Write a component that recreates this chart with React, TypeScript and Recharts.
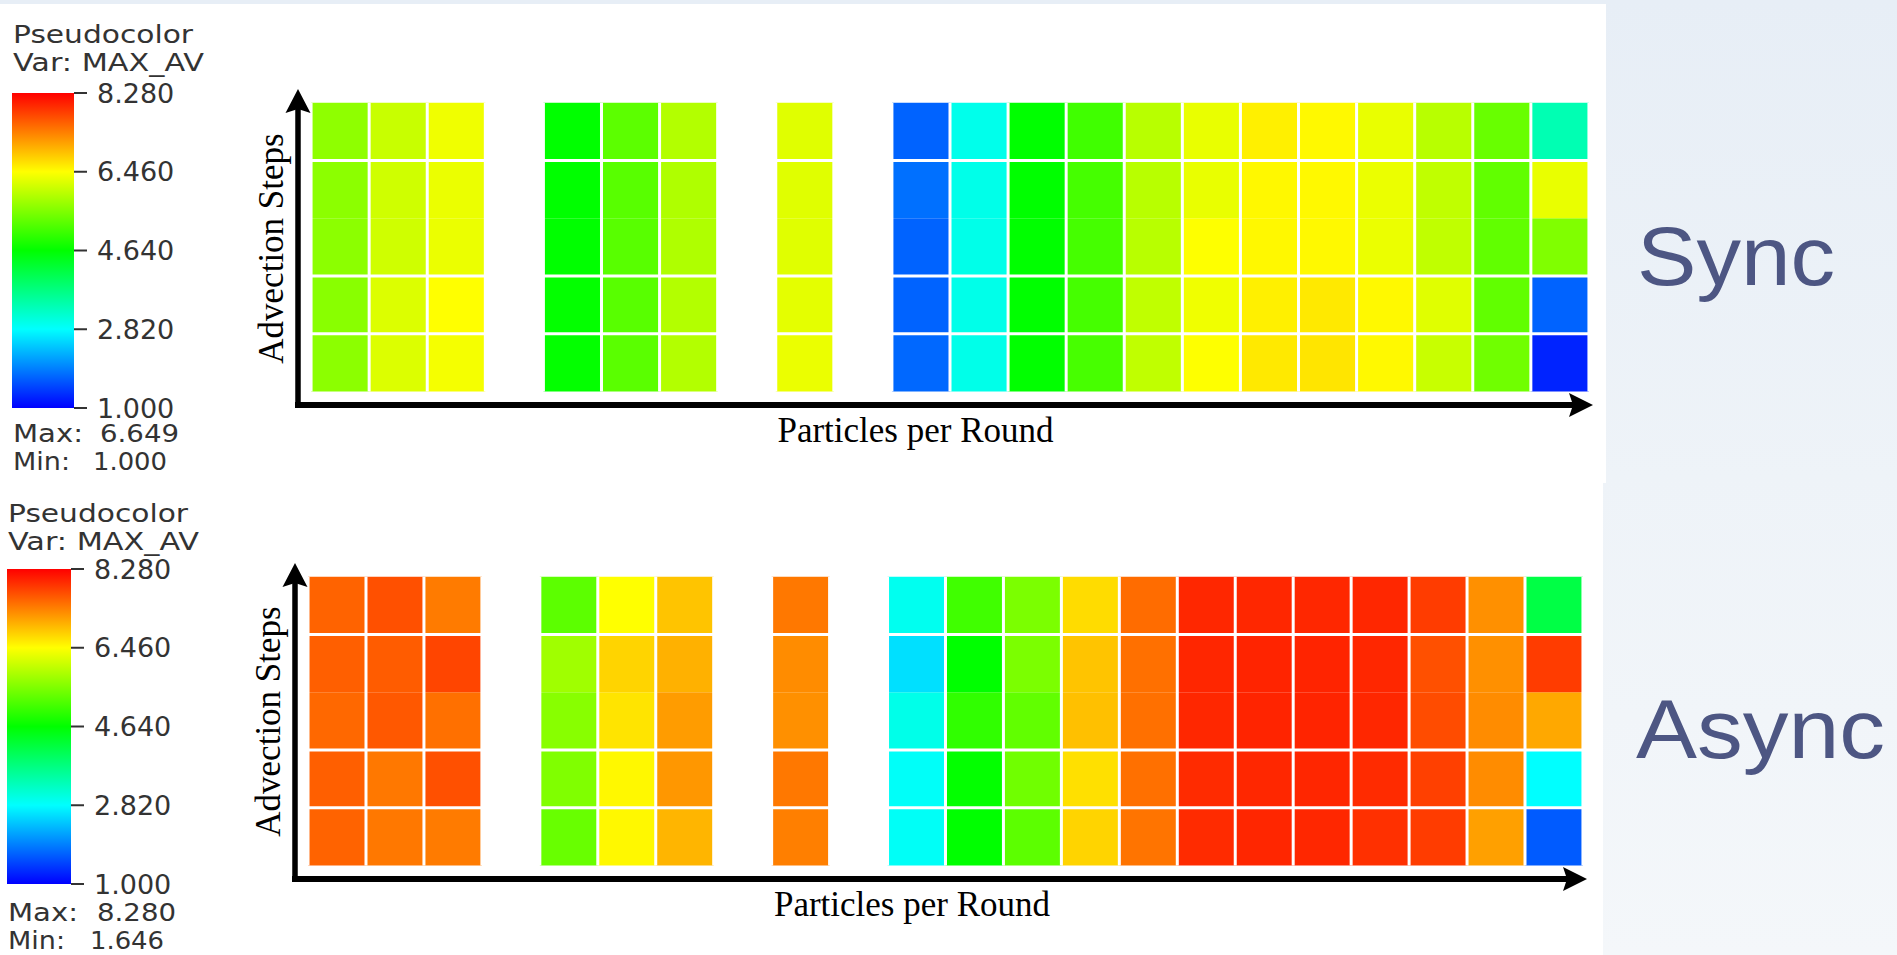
import React from "react";
import {
  BarChart,
  Bar,
  ComposedChart,
  XAxis,
  YAxis,
  ReferenceArea,
  ReferenceLine,
  ReferenceDot,
} from "recharts";

// x slots of the measured "particles per round" columns (22 slots, 3 empty)
const COLUMN_SLOTS = [0, 1, 2, 4, 5, 6, 8, 10, 11, 12, 13, 14, 15, 16, 17, 18, 19, 20, 21];
const SLOT_COUNT = 22;
// advection step rows, bottom -> top
const STEP_ROWS = [0, 1, 2, 3, 4];
// white separators between rows (none between rows 2 and 3)
const ROW_LINES = [1, 2, 4];

// MAX_AV per cell, one array per row (bottom -> top)
const SYNC_VALUES = [
  [5.64, 6.21, 6.39, 4.66, 5.28, 5.92, 6.32, 1.74, 2.98, 4.65, 5.15, 6.01, 6.45, 6.62, 6.649, 6.5, 6.07, 5.44, 1.25],
  [5.62, 6.21, 6.46, 4.66, 5.27, 5.92, 6.27, 1.71, 2.98, 4.64, 5.13, 6.01, 6.35, 6.57, 6.62, 6.5, 6.24, 5.33, 1.71],
  [5.64, 6.12, 6.32, 4.64, 5.27, 5.89, 6.24, 1.71, 2.98, 4.64, 5.13, 5.95, 6.45, 6.51, 6.5, 6.32, 6.01, 5.33, 5.55],
  [5.64, 6.12, 6.32, 4.64, 5.27, 5.89, 6.24, 1.8, 2.98, 4.64, 5.13, 5.95, 6.3, 6.51, 6.5, 6.32, 6.01, 5.33, 6.3],
  [5.66, 6.07, 6.35, 4.64, 5.3, 5.92, 6.24, 1.71, 2.96, 4.64, 5.1, 5.95, 6.3, 6.57, 6.5, 6.3, 5.95, 5.38, 3.36],
];

const ASYNC_VALUES = [
  [7.57, 7.42, 7.4, 5.38, 6.51, 6.99, 7.37, 2.88, 4.64, 5.3, 6.77, 7.45, 7.97, 8.01, 8.0, 7.94, 7.85, 7.14, 1.646],
  [7.6, 7.42, 7.71, 5.55, 6.51, 7.2, 7.42, 2.86, 4.66, 5.44, 6.68, 7.48, 7.97, 8.0, 8.01, 7.97, 7.82, 7.28, 2.82],
  [7.54, 7.65, 7.48, 5.61, 6.65, 7.17, 7.25, 2.98, 4.98, 5.33, 6.91, 7.48, 8.0, 8.02, 8.02, 8.0, 7.74, 7.28, 7.08],
  [7.6, 7.62, 7.79, 5.78, 6.77, 7.02, 7.28, 2.6, 4.64, 5.52, 6.88, 7.48, 8.01, 8.02, 8.02, 8.0, 7.71, 7.25, 7.85],
  [7.57, 7.71, 7.4, 5.3, 6.46, 6.88, 7.42, 2.93, 5.1, 5.52, 6.71, 7.51, 8.0, 8.0, 8.0, 8.0, 7.85, 7.25, 4.15],
];

const LEGEND_TICKS = [1.0, 2.82, 4.64, 6.46, 8.28];
const COLOR_STOPS = ["#0000ff", "#00ffff", "#00ff00", "#ffff00", "#ff0000"];

const X_DOMAIN = [-0.225, 22.07];
const Y_DOMAIN = [-0.235, 5.24];

function hexToRgb(h: string) {
  return [1, 3, 5].map((i) => parseInt(h.slice(i, i + 2), 16));
}

function colorFor(v: number) {
  const lo = LEGEND_TICKS[0];
  const hi = LEGEND_TICKS[LEGEND_TICKS.length - 1];
  const n = COLOR_STOPS.length - 1;
  const t = Math.min(1, Math.max(0, (v - lo) / (hi - lo))) * n;
  const i = Math.min(Math.floor(t), n - 1);
  const f = t - i;
  const a = hexToRgb(COLOR_STOPS[i]);
  const b = hexToRgb(COLOR_STOPS[i + 1]);
  const c = a.map((x, k) => Math.round(x + (b[k] - x) * f));
  return `rgb(${c[0]},${c[1]},${c[2]})`;
}

const upArrow = (p: any) => (
  <polygon
    points={`${p.cx},${p.cy} ${p.cx - 12.5},${p.cy + 24} ${p.cx},${p.cy + 20} ${p.cx + 12.5},${p.cy + 24}`}
    fill="#000"
  />
);
const rightArrow = (p: any) => (
  <polygon
    points={`${p.cx},${p.cy} ${p.cx - 24},${p.cy - 12} ${p.cx - 20},${p.cy} ${p.cx - 24},${p.cy + 12}`}
    fill="#000"
  />
);

function Heatmap({ values, width, height, margin }: any) {
  return (
    <ComposedChart width={width} height={height} margin={margin} data={[]}>
      <XAxis type="number" dataKey="x" domain={X_DOMAIN} allowDataOverflow hide />
      <YAxis type="number" dataKey="y" domain={Y_DOMAIN} allowDataOverflow hide />
      {values.map((row: number[], r: number) =>
        row.map((v, i) => (
          <ReferenceArea
            key={`c${r}-${i}`}
            x1={COLUMN_SLOTS[i]}
            x2={COLUMN_SLOTS[i] + 1}
            y1={STEP_ROWS[r]}
            y2={STEP_ROWS[r] + 1}
            fill={colorFor(v)}
            fillOpacity={1}
            stroke="none"
            ifOverflow="visible"
          />
        ))
      )}
      {Array.from({ length: SLOT_COUNT + 1 }, (_, k) => (
        <ReferenceLine
          key={`v${k}`}
          segment={[{ x: k, y: 0 }, { x: k, y: STEP_ROWS.length }]}
          stroke="#ffffff"
          strokeWidth={3}
          ifOverflow="visible"
        />
      ))}
      {ROW_LINES.map((y) => (
        <ReferenceLine
          key={`h${y}`}
          segment={[{ x: 0, y }, { x: SLOT_COUNT, y }]}
          stroke="#ffffff"
          strokeWidth={3}
          ifOverflow="visible"
        />
      ))}
      <ReferenceLine
        segment={[{ x: X_DOMAIN[0], y: Y_DOMAIN[0] }, { x: X_DOMAIN[0], y: 4.9 }]}
        stroke="#000"
        strokeWidth={5.5}
        strokeLinecap="square"
        ifOverflow="visible"
      />
      <ReferenceLine
        segment={[{ x: X_DOMAIN[0], y: Y_DOMAIN[0] }, { x: 21.8, y: Y_DOMAIN[0] }]}
        stroke="#000"
        strokeWidth={6}
        strokeLinecap="square"
        ifOverflow="visible"
      />
      <ReferenceDot x={X_DOMAIN[0]} y={Y_DOMAIN[1]} r={1} shape={upArrow} ifOverflow="visible" />
      <ReferenceDot x={X_DOMAIN[1]} y={Y_DOMAIN[0]} r={1} shape={rightArrow} ifOverflow="visible" />
    </ComposedChart>
  );
}

function ColorBar({ id, height, margin, axisWidth }: any) {
  const data = [{ name: "MAX_AV", range: [LEGEND_TICKS[0], LEGEND_TICKS[LEGEND_TICKS.length - 1]] }];
  const shape = (p: any) => (
    <g>
      <defs>
        <linearGradient id={id} x1="0" y1="0" x2="0" y2="1">
          {COLOR_STOPS.slice()
            .reverse()
            .map((c, i) => (
              <stop key={c} offset={`${(i / (COLOR_STOPS.length - 1)) * 100}%`} stopColor={c} />
            ))}
        </linearGradient>
      </defs>
      <rect x={p.x} y={p.y} width={p.width} height={p.height} fill={`url(#${id})`} />
    </g>
  );
  return (
    <BarChart width={200} height={height} data={data} margin={margin} barCategoryGap={0}>
      <XAxis dataKey="name" hide />
      <YAxis
        orientation="right"
        type="number"
        domain={[LEGEND_TICKS[0], LEGEND_TICKS[LEGEND_TICKS.length - 1]]}
        ticks={LEGEND_TICKS}
        interval={0}
        width={axisWidth}
        axisLine={false}
        tickSize={13}
        tickMargin={10}
        tickLine={{ stroke: "#333", strokeWidth: 2 }}
        tick={{ fill: "#333", fontSize: 27, fontFamily: "DejaVu Sans" }}
        tickFormatter={(v: number) => v.toFixed(3)}
      />
      <Bar dataKey="range" shape={shape} isAnimationActive={false} />
    </BarChart>
  );
}

const legendFont = { fontFamily: "DejaVu Sans", fontSize: 24, fill: "#333" };
const serif = { fontFamily: "Liberation Serif", fontSize: 35, fill: "#000" };
const big = { fontFamily: "Liberation Sans", fontSize: 84, fill: "#4d5683" };

function LegendText({ x, y0, maxLabel, minLabel, maxX, minX }: any) {
  return (
    <g style={legendFont as any}>
      <text x={x} y={y0} textLength={180} lengthAdjust="spacingAndGlyphs">Pseudocolor</text>
      <text x={x} y={y0 + 28} textLength={191} lengthAdjust="spacingAndGlyphs">Var: MAX_AV</text>
      <text x={x} y={y0 + 399} textLength={70} lengthAdjust="spacingAndGlyphs">Max:</text>
      <text x={maxX} y={y0 + 399} textLength={79} lengthAdjust="spacingAndGlyphs">{maxLabel}</text>
      <text x={x} y={y0 + 427} textLength={57} lengthAdjust="spacingAndGlyphs">Min:</text>
      <text x={minX} y={y0 + 427} textLength={74} lengthAdjust="spacingAndGlyphs">{minLabel}</text>
    </g>
  );
}

export default function App() {
  return (
    <div
      style={{
        position: "absolute",
        left: 0,
        top: 0,
        width: 1897,
        height: 955,
        overflow: "hidden",
        background: "linear-gradient(180deg, #e7eef6 0%, #eef3f8 50%, #f4f7fa 100%)",
      }}
    >
      <div style={{ position: "absolute", left: 0, top: 4, width: 1606, height: 479, background: "#fff" }} />
      <div style={{ position: "absolute", left: 0, top: 483, width: 1603, height: 472, background: "#fff" }} />

      <div style={{ position: "absolute", left: 0, top: 0 }}>
        <Heatmap values={SYNC_VALUES} width={1606} height={483} margin={{ top: 89, bottom: 78, left: 298, right: 13 }} />
      </div>
      <div style={{ position: "absolute", left: 0, top: 483 }}>
        <Heatmap values={ASYNC_VALUES} width={1603} height={472} margin={{ top: 80, bottom: 76, left: 295, right: 16 }} />
      </div>

      <div style={{ position: "absolute", left: 0, top: 0 }}>
        <ColorBar id="rainbow-sync" height={483} margin={{ top: 93, bottom: 75, left: 12, right: 0 }} axisWidth={126} />
      </div>
      <div style={{ position: "absolute", left: 0, top: 483 }}>
        <ColorBar id="rainbow-async" height={472} margin={{ top: 86, bottom: 71, left: 7, right: 0 }} axisWidth={129} />
      </div>

      <svg width={1897} height={955} style={{ position: "absolute", left: 0, top: 0, pointerEvents: "none" }}>
        <LegendText x={13} y0={43} maxLabel="6.649" minLabel="1.000" maxX={100} minX={93} />
        <LegendText x={8} y0={522} maxLabel="8.280" minLabel="1.646" maxX={97} minX={90} />

        <text transform="translate(283,248.5) rotate(-90)" textAnchor="middle" style={serif}>Advection Steps</text>
        <text x={915.5} y={442} textAnchor="middle" style={serif}>Particles per Round</text>
        <text transform="translate(280,721.5) rotate(-90)" textAnchor="middle" style={serif}>Advection Steps</text>
        <text x={912} y={916} textAnchor="middle" style={serif}>Particles per Round</text>

        <text x={1637} y={285} textLength={198} lengthAdjust="spacingAndGlyphs" style={big}>Sync</text>
        <text x={1636} y={758} textLength={249} lengthAdjust="spacingAndGlyphs" style={big}>Async</text>
      </svg>
    </div>
  );
}
